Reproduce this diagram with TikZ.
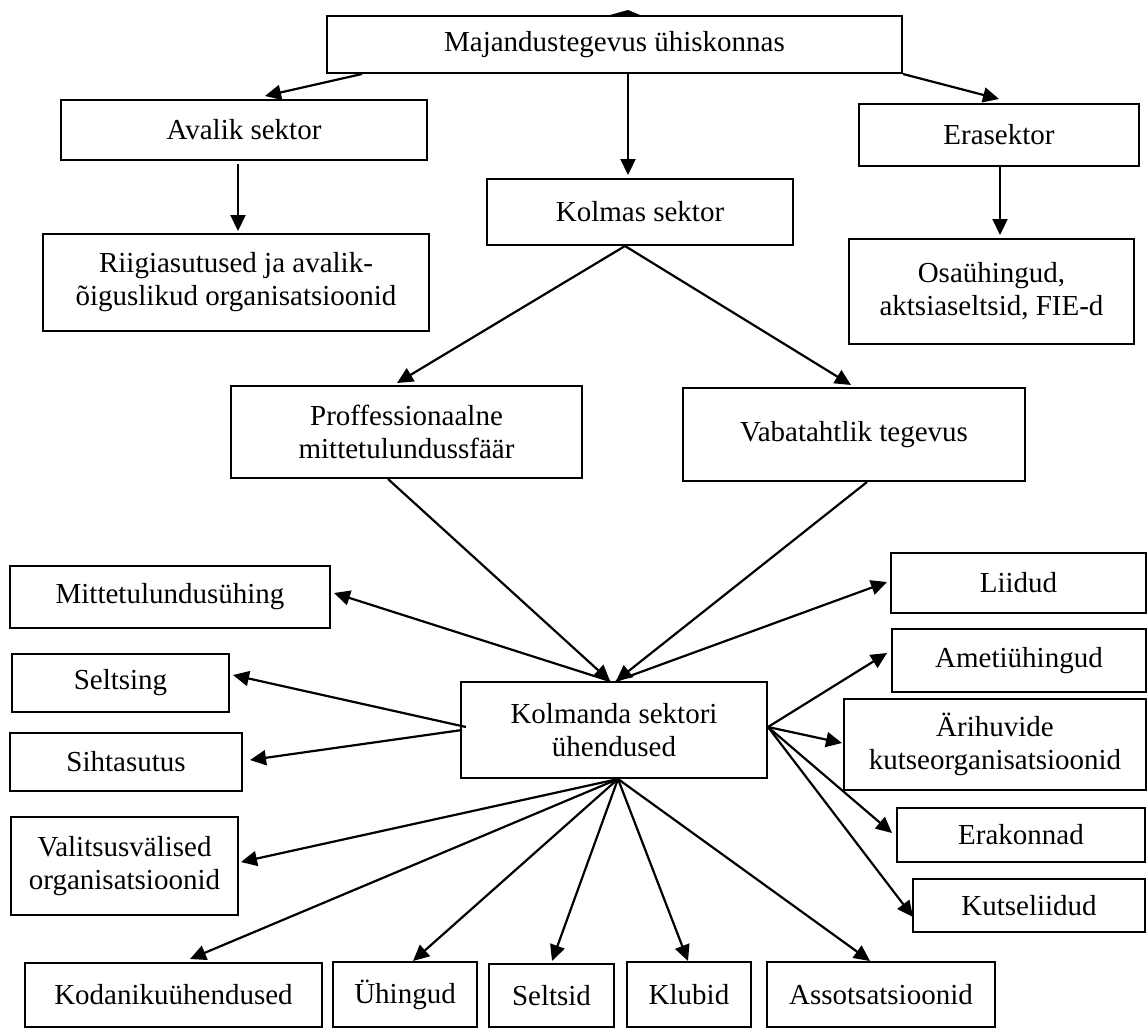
\documentclass[tikz,border=0pt]{standalone}
\usepackage{fontspec}
\setmainfont{Liberation Serif}
\usetikzlibrary{arrows.meta,calc}
\begin{document}
\begin{tikzpicture}[x=1pt,y=-1pt,
  box/.style={draw, line width=2pt, rectangle, inner sep=0pt, align=center,
              font=\fontsize{29}{33}\selectfont},
  arr/.style={line width=2.2pt, -{Triangle[length=16pt,width=15pt]}},
  plain/.style={line width=2pt}]
\fill[white] (0,0) rectangle (1147,1028);
\useasboundingbox (0,0) rectangle (1147,1028);

% nodes
\node[box, minimum width=575pt, minimum height=57pt] (maj) at (614.5,44.5) {Majandustegevus ühiskonnas};
\node[box, minimum width=366pt, minimum height=60pt] (avalik) at (244,130) {Avalik sektor};
\node[box, minimum width=386pt, minimum height=97pt] (riigi) at (236,282.5) {Riigiasutused ja avalik-\\õiguslikud organisatsioonid};
\node[box, minimum width=306pt, minimum height=66pt] (kolmas) at (640,212) {Kolmas sektor};
\node[box, minimum width=280pt, minimum height=62pt] (erasektor) at (999,135) {Erasektor};
\node[box, minimum width=285pt, minimum height=105pt] (osa) at (991.5,291.5) {Osaühingud,\\aktsiaseltsid, FIE-d};
\node[box, minimum width=351pt, minimum height=92pt] (proff) at (406.5,432) {Proffessionaalne\\mittetulundussfäär};
\node[box, minimum width=342pt, minimum height=93pt] (vabat) at (854,434.5) {Vabatahtlik tegevus};
\node[box, minimum width=306pt, minimum height=96pt] (kolmanda) at (614,730) {Kolmanda sektori\\ühendused};
\node[box, minimum width=320pt, minimum height=62pt] (mtu) at (170,597) {Mittetulundusühing};
\node[box, minimum width=217pt, minimum height=58pt] (seltsing) at (120.5,683) {Seltsing};
\node[box, minimum width=232pt, minimum height=58pt] (siht) at (126,762) {Sihtasutus};
\node[box, minimum width=227pt, minimum height=98pt] (valits) at (124.5,866) {Valitsusvälised\\organisatsioonid};
\node[box, minimum width=255pt, minimum height=60pt] (liidud) at (1018.5,583) {Liidud};
\node[box, minimum width=254pt, minimum height=63pt] (ameti) at (1019,660.5) {Ametiühingud};
\node[box, minimum width=302pt, minimum height=91pt] (ari) at (995,744.5) {Ärihuvide\\kutseorganisatsioonid};
\node[box, minimum width=248pt, minimum height=54pt] (erak) at (1021,835) {Erakonnad};
\node[box, minimum width=232pt, minimum height=53pt] (kutse) at (1029,905.5) {Kutseliidud};
\node[box, minimum width=297pt, minimum height=64pt] (kodan) at (173.5,995) {Kodanikuühendused};
\node[box, minimum width=144pt, minimum height=65pt] (uhing) at (405,994.5) {Ühingud};
\node[box, minimum width=125pt, minimum height=63pt] (seltsid) at (551.5,995.5) {Seltsid};
\node[box, minimum width=124pt, minimum height=65pt] (klubid) at (689,994.5) {Klubid};
\node[box, minimum width=228pt, minimum height=65pt] (assots) at (881,994.5) {Assotsatsioonid};

% small mark on top of the first box
\fill ($(maj.north)+(-4.5,0)$) -- ($(maj.north)+(13.5,-5)$) -- ($(maj.north)+(25.5,0)$) -- cycle;

% top level
\draw[arr] ($(maj.south west)+(36,0)$) -- ($(avalik.north)+(21,-3)$);
\draw[arr] ($(maj.south)+(13.5,0)$) -- ($(kolmas.north)+(-12,-3)$);
\draw[arr] (maj.south east) -- ($(erasektor.north)+(0,-4)$);
\draw[arr] ($(avalik.south)+(-6,3)$) -- ($(riigi.north)+(2,-2)$);
\draw[arr] ($(erasektor.south)+(1,0)$) -- ($(osa.north)+(8.5,-3)$);
\draw[arr] ($(kolmas.south)+(-15,0)$) -- ($(proff.north)+(-9.5,-2)$);
\draw[arr] ($(kolmas.south)+(-15,0)$) -- ($(vabat.north)+(-3,-2)$);
\draw[arr] ($(proff.south)+(-18.5,0)$) -- ($(kolmanda.north)+(-4,0)$);
\draw[arr] ($(vabat.south)+(13,0)$) -- ($(kolmanda.north)+(2,0)$);

% left side
\draw[arr] ($(kolmanda.north)+(-4,0)$) -- ($(mtu.east)+(3,-4)$);
\draw[arr] ($(kolmanda.west)+(6,-3)$) -- ($(seltsing.east)+(3,-8)$);
\draw[arr] ($(kolmanda.west)+(2,0)$) -- ($(siht.east)+(7,-2)$);

% right side
\draw[arr] ($(kolmanda.north)+(2,0)$) -- ($(liidud.west)+(-3,-1)$);
\draw[arr] ($(kolmanda.east)+(0,-3)$) -- ($(ameti.west)+(-4,-7.5)$);
\draw[arr] ($(kolmanda.east)+(0,-3)$) -- ($(ari.west)+(-1,-1.5)$);
\draw[arr] ($(kolmanda.east)+(0,-3)$) -- ($(erak.west)+(-4,-2)$);
\draw[arr] ($(kolmanda.east)+(0,-3)$) -- ($(kutse.west)+(1,11.5)$);

% bottom fan
\draw[arr] ($(kolmanda.south)+(4,0)$) -- ($(valits.east)+(2,-4)$);
\draw[arr] ($(kolmanda.south)+(4,0)$) -- ($(kodan.north)+(16.5,-3)$);
\draw[arr] ($(kolmanda.south)+(4,0)$) -- ($(uhing.north)+(8,0)$);
\draw[arr] ($(kolmanda.south)+(4,0)$) -- ($(seltsid.north)+(0.5,-2)$);
\draw[arr] ($(kolmanda.south)+(4,0)$) -- ($(klubid.north)+(-1,0)$);
\draw[arr] ($(kolmanda.south)+(4,0)$) -- ($(assots.north)+(-11,0)$);
\end{tikzpicture}
\end{document}
